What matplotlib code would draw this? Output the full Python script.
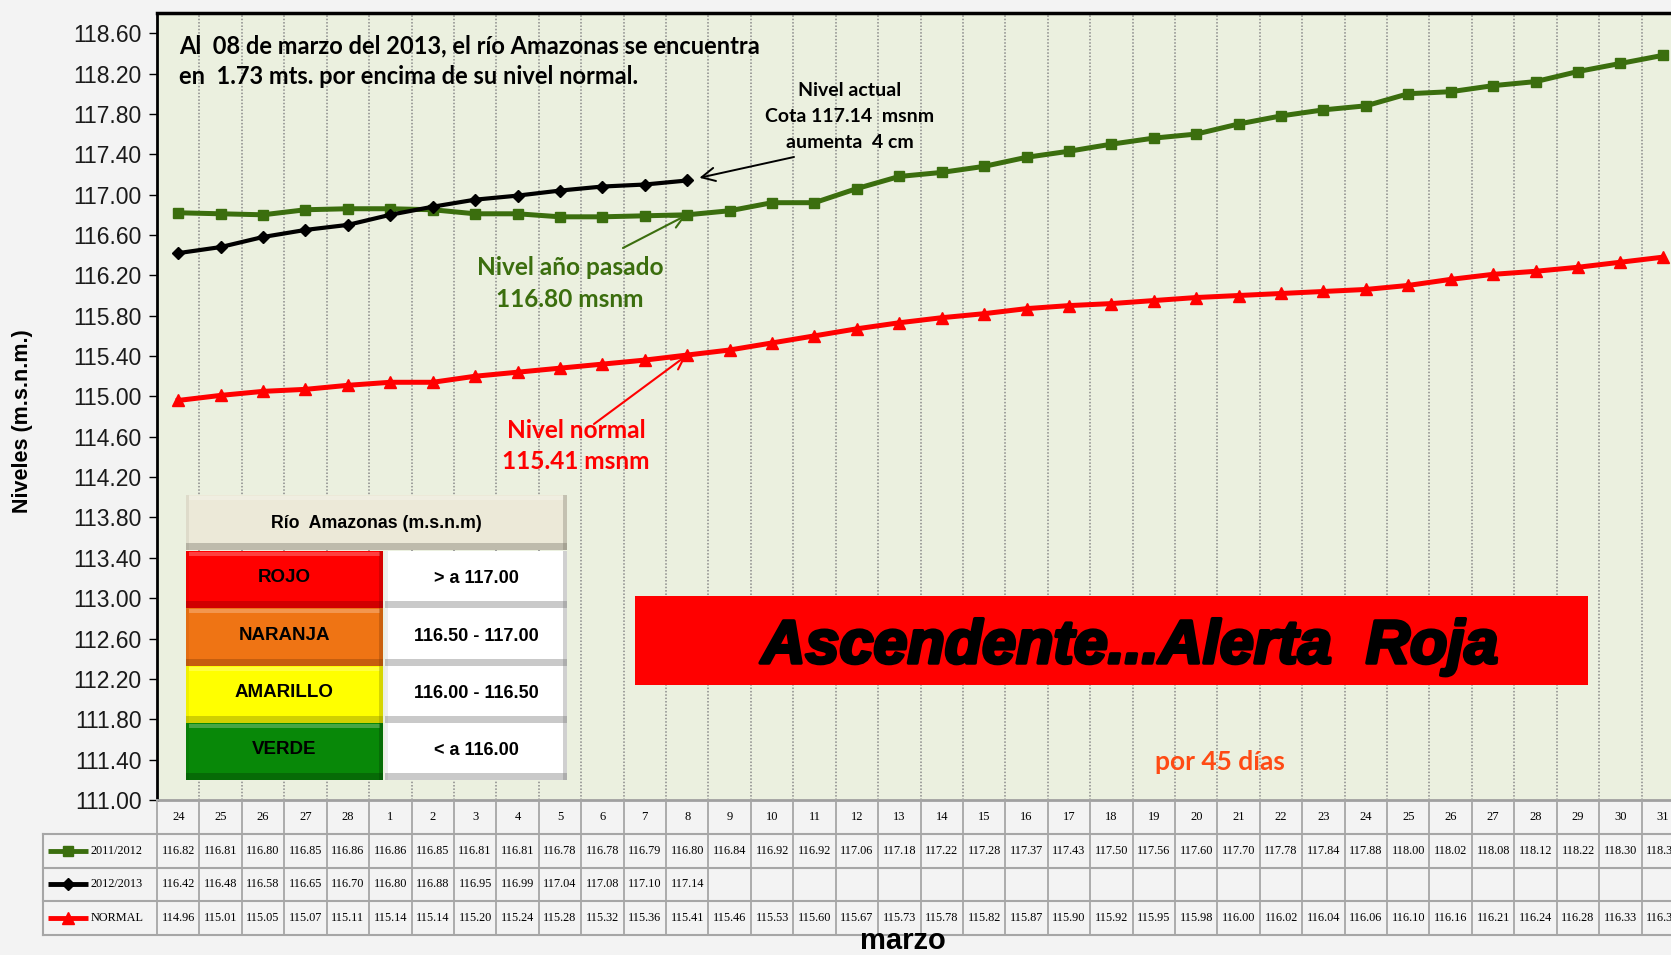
import matplotlib
matplotlib.use("Agg")
import matplotlib.pyplot as plt
import matplotlib.patheffects as pe
from matplotlib.patches import Rectangle
from matplotlib.lines import Line2D
import numpy as np

# ---------- datos ----------
dias = ['24', '25', '26', '27', '28', '1', '2', '3', '4', '5', '6', '7', '8', '9',
        '10', '11', '12', '13', '14', '15', '16', '17', '18', '19', '20', '21', '22',
        '23', '24', '25', '26', '27', '28', '29', '30', '31']
nivel_2011_2012 = [116.82, 116.81, 116.80, 116.85, 116.86, 116.86, 116.85, 116.81, 116.81,
                   116.78, 116.78, 116.79, 116.80, 116.84, 116.92, 116.92, 117.06, 117.18,
                   117.22, 117.28, 117.37, 117.43, 117.50, 117.56, 117.60, 117.70, 117.78,
                   117.84, 117.88, 118.00, 118.02, 118.08, 118.12, 118.22, 118.30, 118.38]
nivel_2012_2013 = [116.42, 116.48, 116.58, 116.65, 116.70, 116.80, 116.88, 116.95, 116.99,
                   117.04, 117.08, 117.10, 117.14]
nivel_normal = [114.96, 115.01, 115.05, 115.07, 115.11, 115.14, 115.14, 115.20, 115.24,
                115.28, 115.32, 115.36, 115.41, 115.46, 115.53, 115.60, 115.67, 115.73,
                115.78, 115.82, 115.87, 115.90, 115.92, 115.95, 115.98, 116.00, 116.02,
                116.04, 116.06, 116.10, 116.16, 116.21, 116.24, 116.28, 116.33, 116.38]
series_names = ['2011/2012', '2012/2013', 'NORMAL']
alerta_nombres = ['ROJO', 'NARANJA', 'AMARILLO', 'VERDE']
alerta_rangos = ['> a 117.00', '116.50 - 117.00', '116.00 - 116.50', '< a 116.00']
alerta_colores = ['#ff0000', '#ef7414', '#ffff00', '#088808']
alerta_sombras = ['#8a0000', '#8a3d05', '#8a8a00', '#034003']
idx_hoy = 12  # "8" de marzo

W, H = 1671, 955
GREEN = '#3b6e0e'
SANS = ['Liberation Sans', 'DejaVu Sans']
CAL = ['Lato', 'DejaVu Sans']
SERIF = ['Liberation Serif', 'DejaVu Serif']

fig = plt.figure(figsize=(W / 100, H / 100), dpi=100, facecolor='#f3f3f3')

# ---------- grafico principal ----------
ax_left, ax_w = 157 / W, 1527 / W
ax = fig.add_axes([ax_left, 155 / H, ax_w, 787 / H])
ax.set_facecolor('#ebf0df')
x = np.arange(len(dias))

ax.plot(x, nivel_2011_2012, color=GREEN, lw=3.6, marker='s', ms=7.5, zorder=3)
ax.plot(x[:len(nivel_2012_2013)], nivel_2012_2013, color='black', lw=3,
        marker='D', ms=6.5, zorder=4)
ax.plot(x, nivel_normal, color='#ff0000', lw=3.6, marker='^', ms=9, zorder=3)

ax.set_xlim(-0.5, len(dias) - 0.5)
ax.set_ylim(111.0, 118.8)
yt = np.arange(111.0, 118.61, 0.4)
ax.set_yticks(yt)
ax.set_yticklabels([f'{t:.2f}' for t in yt], fontsize=16.5, family=SANS, color='#1a1a1a')
ax.set_xticks(np.arange(-0.5, len(dias), 1), minor=True)
ax.set_xticks([])
ax.grid(which='minor', axis='x', ls=(0, (1, 1.2)), color='#8a8a8a', lw=1.1)
ax.tick_params(axis='x', which='both', length=0, labelbottom=False)
ax.tick_params(axis='y', direction='out', length=6, width=1, pad=5)
ax.spines['left'].set_linewidth(2)
ax.spines['top'].set_linewidth(2.5)
ax.spines['bottom'].set_color('#a0a0a0')
ax.spines['bottom'].set_linewidth(2)
ax.spines['right'].set_visible(False)

# flechas
ax.annotate('', xy=(idx_hoy, nivel_2012_2013[idx_hoy]), xytext=(794, H - 157),
            textcoords='figure pixels',
            arrowprops=dict(arrowstyle='->', color='black', lw=1.4, mutation_scale=24,
                            shrinkA=0, shrinkB=9))
ax.annotate('', xy=(idx_hoy, nivel_2011_2012[idx_hoy]), xytext=(623, H - 248),
            textcoords='figure pixels',
            arrowprops=dict(arrowstyle='->', color=GREEN, lw=1.5, mutation_scale=22,
                            shrinkA=0, shrinkB=1))
ax.annotate('', xy=(idx_hoy, nivel_normal[idx_hoy]), xytext=(594, H - 424),
            textcoords='figure pixels',
            arrowprops=dict(arrowstyle='->', color='#ff0000', lw=1.5, mutation_scale=22,
                            shrinkA=0, shrinkB=1))

# ---------- tabla de datos ----------
tab = fig.add_axes([ax_left, 20 / H, ax_w, 135 / H])
tab.set_xlim(-0.5, len(dias) - 0.5)
tab.set_ylim(4, 0)
tab.axis('off')
lab_x0 = -3.19
gc = '#a6a6a6'
for r in range(1, 5):
    tab.plot([lab_x0, len(dias) - 0.5], [r, r], color=gc, lw=1.5, clip_on=False)
for b in np.arange(-0.5, len(dias), 1):
    tab.plot([b, b], [0, 4], color=gc, lw=1.3, clip_on=False)
tab.plot([lab_x0, lab_x0], [1, 4], color=gc, lw=1.5, clip_on=False)
for i, d in enumerate(dias):
    tab.text(i, 0.5, d, ha='center', va='center', fontsize=9, family=SERIF, clip_on=False)
filas = [nivel_2011_2012, nivel_2012_2013, nivel_normal]
estilos = [(GREEN, 's', 7), ('black', 'D', 6), ('#ff0000', '^', 8)]
for r, (vals, name, (c, m, ms)) in enumerate(zip(filas, series_names, estilos), start=1):
    for i, v in enumerate(vals):
        tab.text(i, r + 0.5, f'{v:.2f}', ha='center', va='center', fontsize=8.8,
                 family=SERIF, clip_on=False)
    tab.add_line(Line2D([-3.08, -2.12], [r + 0.5, r + 0.5], color=c, lw=3.5,
                        solid_capstyle='butt', clip_on=False))
    tab.add_line(Line2D([-2.6], [r + 0.5], color=c, marker=m, ms=ms, clip_on=False))
    tab.text(-2.07, r + 0.5, name, ha='left', va='center', fontsize=8.8, family=SERIF,
             clip_on=False)

# ---------- capa de textos (pixeles) ----------
ov = fig.add_axes([0, 0, 1, 1], zorder=5)
ov.set_xlim(0, W)
ov.set_ylim(H, 0)
ov.axis('off')

ov.text(179, 46, 'Al  08 de marzo del 2013, el río Amazonas se encuentra', fontsize=17,
        fontweight='bold', family=CAL, va='center', ha='left')
ov.text(179, 77, 'en  1.73 mts. por encima de su nivel normal.', fontsize=17,
        fontweight='bold', family=CAL, va='center', ha='left')
for yy, t in zip([91, 117, 143], ['Nivel actual', 'Cota 117.14  msnm', 'aumenta  4 cm']):
    ov.text(850, yy, t, fontsize=14, fontweight='bold', family=CAL, ha='center', va='center')
ov.text(570, 267, 'Nivel año pasado', fontsize=17.6, fontweight='bold', family=CAL,
        color=GREEN, ha='center', va='center')
ov.text(570, 299, '116.80 msnm', fontsize=17.6, fontweight='bold', family=CAL,
        color=GREEN, ha='center', va='center')
ov.text(576, 430, 'Nivel normal', fontsize=17.6, fontweight='bold', family=CAL,
        color='#ff0000', ha='center', va='center')
ov.text(576, 461, '115.41 msnm', fontsize=17.6, fontweight='bold', family=CAL,
        color='#ff0000', ha='center', va='center')
ov.text(1220, 762, 'por 45 días', fontsize=19, fontweight='bold', family=CAL,
        color='#ff4b14', ha='center', va='center')

ov.add_patch(Rectangle((635, 596), 953, 89, fc='#ff0000', ec='none'))
ov.text(1130, 663, 'Ascendente...Alerta  Roja', fontsize=44, fontweight='bold',
        fontstyle='italic', family=SANS, ha='center', va='baseline', color='black',
        path_effects=[pe.withStroke(linewidth=2.5, foreground='black')])

ov.text(23, 421, 'Niveles (m.s.n.m.)', rotation=90, fontsize=15.5, fontweight='bold',
        family=SANS, ha='center', va='center')
ov.text(903, 941, 'marzo', fontsize=21, fontweight='bold', family=SANS,
        ha='center', va='center')


def bevel(x0, y0, w, h, face, dark, light):
    ov.add_patch(Rectangle((x0, y0), w, h, fc=face, ec='none'))
    ov.add_patch(Rectangle((x0 + 3, y0 + 1), w - 6, 4, fc=light, ec='none', alpha=0.25))
    ov.add_patch(Rectangle((x0, y0 + h - 7), w, 7, fc=dark, ec='none', alpha=0.4))
    ov.add_patch(Rectangle((x0 + w - 4, y0), 4, h, fc=dark, ec='none', alpha=0.35))
    ov.add_patch(Rectangle((x0, y0), 3, h, fc=dark, ec='none', alpha=0.12))


bevel(186, 495, 381, 55, '#ece9d8', '#7a786a', '#ffffff')
ov.text(376, 523, 'Río  Amazonas (m.s.n.m)', fontsize=12.8, fontweight='bold',
        family=SANS, ha='center', va='center')
row_edges = [551, 608, 666, 723, 780]
for k, (nm, rg, col, sh) in enumerate(zip(alerta_nombres, alerta_rangos,
                                          alerta_colores, alerta_sombras)):
    y0, y1 = row_edges[k], row_edges[k + 1]
    bevel(186, y0, 197, y1 - y0, col, sh, '#ffffff')
    bevel(385, y0, 182, y1 - y0, '#ffffff', '#7a7a7a', '#ffffff')
    ov.text(284, (y0 + y1) / 2 - 2, nm, fontsize=13.5, fontweight='bold', family=SANS,
            ha='center', va='center')
    ov.text(476, (y0 + y1) / 2 - 1, rg, fontsize=13, fontweight='bold', family=SANS,
            ha='center', va='center')

fig.savefig('out.png', dpi=100, facecolor=fig.get_facecolor())
